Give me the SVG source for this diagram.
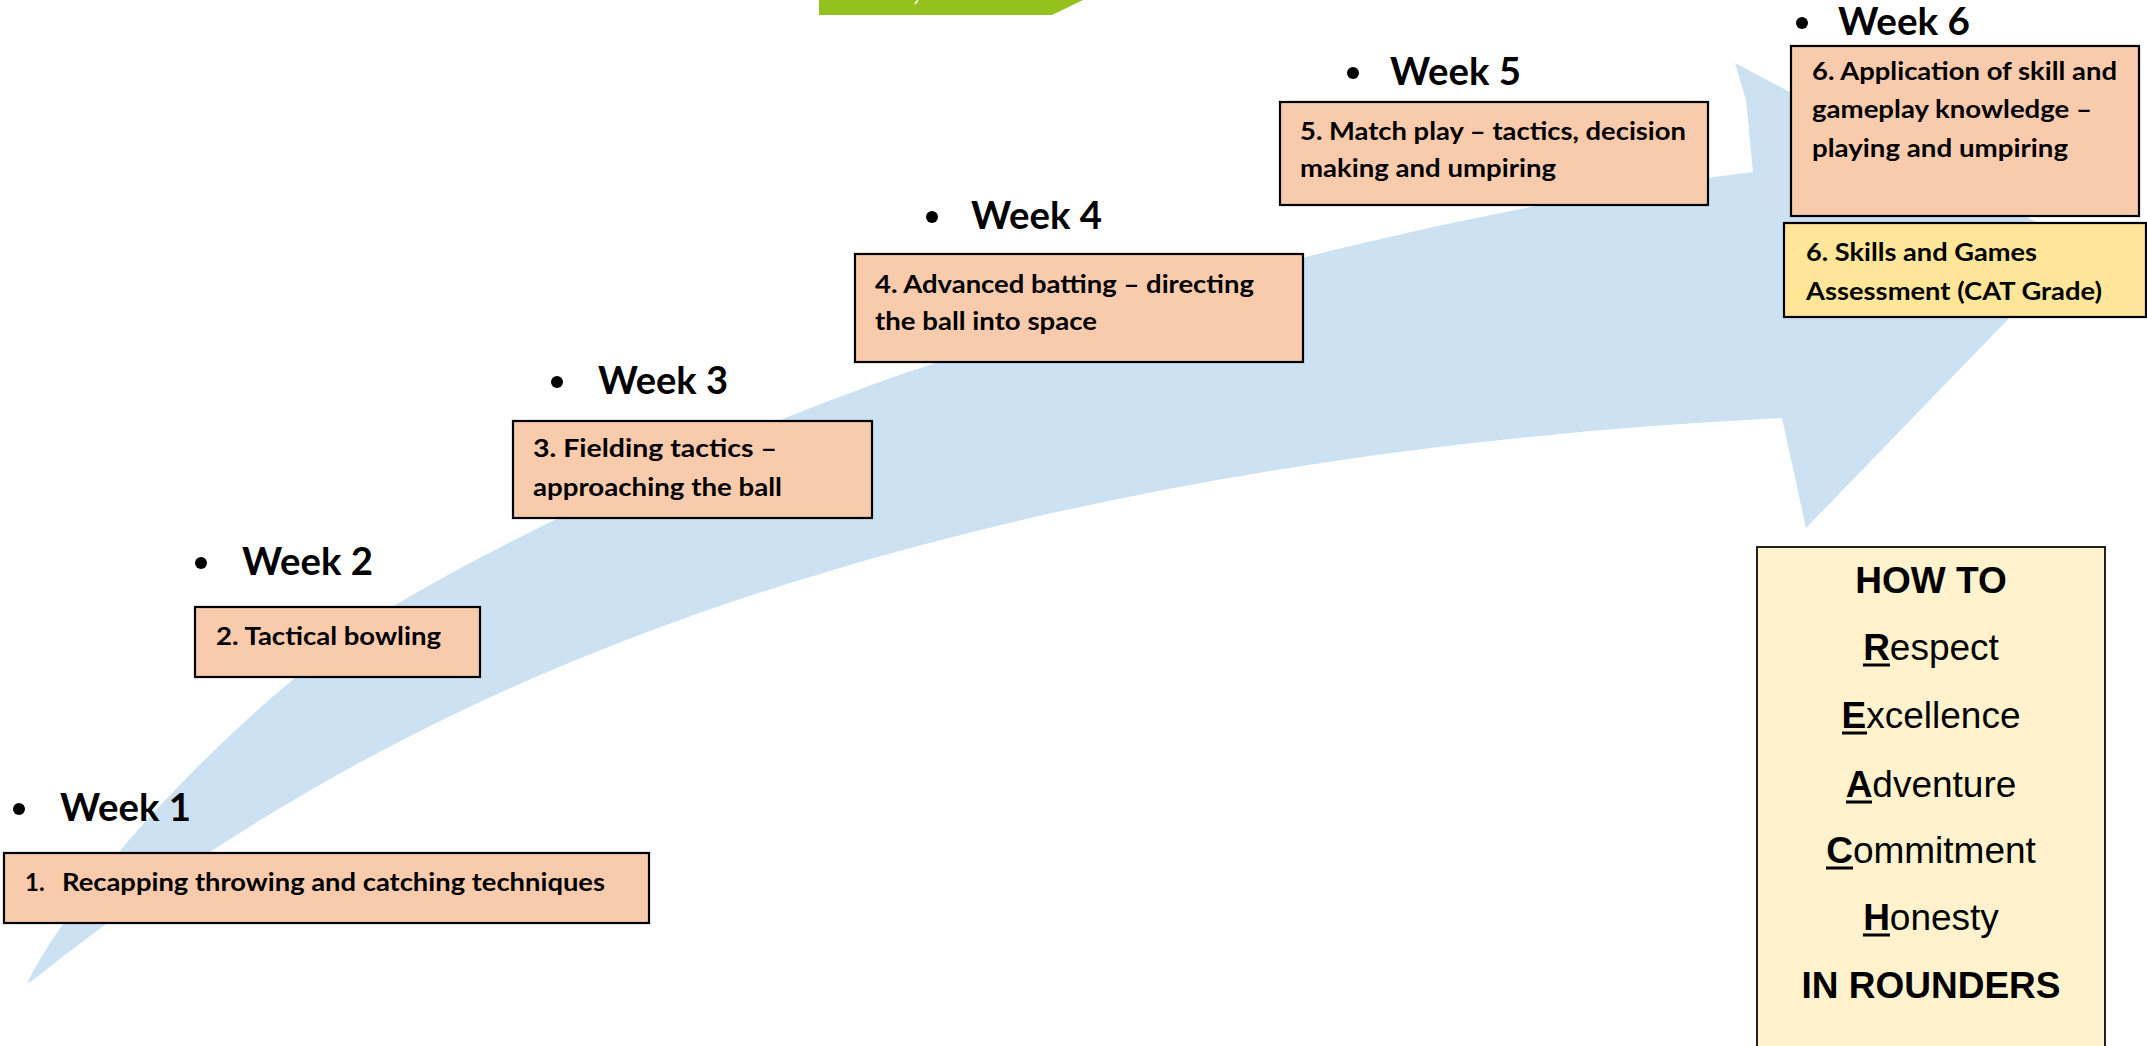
<svg xmlns="http://www.w3.org/2000/svg" width="2147" height="1046" viewBox="0 0 2147 1046">
<style>
.box{fill:#F8CBAD;stroke:#000;stroke-width:2.2}
.ybox{fill:#FFE699;stroke:#000;stroke-width:2.2}
.rbox{fill:#FFF2CC;stroke:#222;stroke-width:2}
.bt{font-family:Lato,"Open Sans","Liberation Sans",sans-serif;font-weight:700;font-size:24px;fill:#000}
.wk{font-family:Lato,"Open Sans","Liberation Sans",sans-serif;font-weight:700;font-size:38px;fill:#000}
.rt{font-family:"Liberation Sans",Arial,sans-serif;font-size:37px;fill:#000;text-anchor:middle}
.b{font-weight:700}
.ul{stroke:#000;stroke-width:3}
</style>
<rect width="2147" height="1046" fill="#fff"/>
<g id="banner">
<polygon points="819,0 1083,0 1052,15 819,15" fill="#95C11F"/>
<line x1="915" y1="4" x2="918" y2="0" stroke="#fff" stroke-width="1.5"/>
</g>
<g id="connectors">
<path id="progress-arrow" fill="#CCE2F2" d="M27,983 C90,860 274,678 394,606 C544,516 779,414.5 929,365 C1229,269 1503,202 1753,172 L1746,100 L1735,63 L2080,245 L1806,528 L1782,418 C1382,438 984,504 634,637 C434,713 233,820 33,980 Z"/>
</g>
<g id="week1">
<circle cx="19" cy="809" r="6"/>
<text class="wk" x="60" y="821" textLength="131" lengthAdjust="spacingAndGlyphs">Week 1</text>
<rect class="box" x="4" y="853" width="645" height="70"/>
<text class="bt" x="25" y="891">1.</text>
<text class="bt" x="62" y="891" textLength="543" lengthAdjust="spacingAndGlyphs">Recapping throwing and catching techniques</text>
</g>
<g id="week2">
<circle cx="201" cy="563" r="6"/>
<text class="wk" x="242" y="575" textLength="131" lengthAdjust="spacingAndGlyphs">Week 2</text>
<rect class="box" x="195" y="607" width="285" height="70"/>
<text class="bt" x="216" y="645" textLength="225" lengthAdjust="spacingAndGlyphs">2. Tactical bowling</text>
</g>
<g id="week3">
<circle cx="557" cy="382" r="6"/>
<text class="wk" x="598" y="394" textLength="130" lengthAdjust="spacingAndGlyphs">Week 3</text>
<rect class="box" x="513" y="421" width="359" height="97"/>
<text class="bt" x="533" y="457" textLength="244" lengthAdjust="spacingAndGlyphs">3. Fielding tactics –</text>
<text class="bt" x="533" y="496" textLength="249" lengthAdjust="spacingAndGlyphs">approaching the ball</text>
</g>
<g id="week4">
<circle cx="932" cy="217" r="6"/>
<text class="wk" x="971" y="229" textLength="131" lengthAdjust="spacingAndGlyphs">Week 4</text>
<rect class="box" x="855" y="254" width="448" height="108"/>
<text class="bt" x="875" y="293" textLength="379" lengthAdjust="spacingAndGlyphs">4. Advanced batting – directing</text>
<text class="bt" x="875" y="330" textLength="222" lengthAdjust="spacingAndGlyphs">the ball into space</text>
</g>
<g id="week5">
<circle cx="1353" cy="73" r="6"/>
<text class="wk" x="1390" y="85" textLength="131" lengthAdjust="spacingAndGlyphs">Week 5</text>
<rect class="box" x="1280" y="102" width="428" height="103"/>
<text class="bt" x="1300" y="140" textLength="386" lengthAdjust="spacingAndGlyphs">5. Match play – tactics, decision</text>
<text class="bt" x="1300" y="177" textLength="256" lengthAdjust="spacingAndGlyphs">making and umpiring</text>
</g>
<g id="week6">
<circle cx="1802" cy="23" r="6"/>
<text class="wk" x="1838" y="35" textLength="132" lengthAdjust="spacingAndGlyphs">Week 6</text>
<rect class="box" x="1791" y="46" width="348" height="170"/>
<text class="bt" x="1812" y="80" textLength="305" lengthAdjust="spacingAndGlyphs">6. Application of skill and</text>
<text class="bt" x="1812" y="118" textLength="280" lengthAdjust="spacingAndGlyphs">gameplay knowledge –</text>
<text class="bt" x="1812" y="157" textLength="256" lengthAdjust="spacingAndGlyphs">playing and umpiring</text>
</g>
<g id="assessment">
<rect class="ybox" x="1784" y="223" width="362" height="94"/>
<text class="bt" x="1806" y="261" textLength="231" lengthAdjust="spacingAndGlyphs">6. Skills and Games</text>
<text class="bt" x="1806" y="300" textLength="296" lengthAdjust="spacingAndGlyphs">Assessment (CAT Grade)</text>
</g>
<g id="reach">
<rect class="rbox" x="1757" y="547" width="348" height="520"/>
<text class="rt b" x="1931" y="593">HOW TO</text>
<text class="rt" x="1931" y="660"><tspan class="b">R</tspan>espect</text>
<line class="ul" x1="1863" y1="665" x2="1890" y2="665"/>
<text class="rt" x="1931" y="728"><tspan class="b">E</tspan>xcellence</text>
<line class="ul" x1="1842" y1="733" x2="1867" y2="733"/>
<text class="rt" x="1931" y="797"><tspan class="b">A</tspan>dventure</text>
<line class="ul" x1="1846" y1="802" x2="1872" y2="802"/>
<text class="rt" x="1931" y="863"><tspan class="b">C</tspan>ommitment</text>
<line class="ul" x1="1826" y1="868" x2="1853" y2="868"/>
<text class="rt" x="1931" y="930"><tspan class="b">H</tspan>onesty</text>
<line class="ul" x1="1863" y1="935" x2="1890" y2="935"/>
<text class="rt b" x="1931" y="998">IN ROUNDERS</text>
</g>
</svg>
